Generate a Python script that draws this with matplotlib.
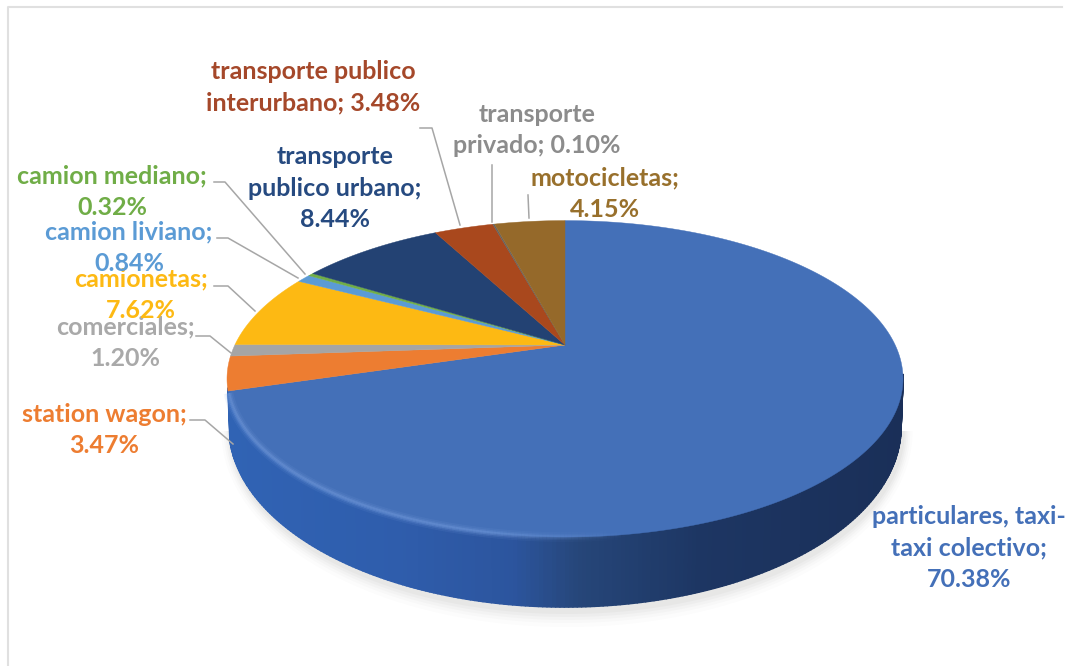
import matplotlib
matplotlib.use("Agg")
import matplotlib.pyplot as plt
import numpy as np
from matplotlib.collections import PolyCollection
from matplotlib.colors import LinearSegmentedColormap

plt.rcParams["font.family"] = ["Lato", "DejaVu Sans"]

categories = [
    "particulares, taxi-\ntaxi colectivo",
    "station wagon",
    "comerciales",
    "camionetas",
    "camion liviano",
    "camion mediano",
    "transporte\npublico urbano",
    "transporte publico\ninterurbano",
    "transporte\nprivado",
    "motocicletas",
]
shares = [70.38, 3.47, 1.20, 7.62, 0.84, 0.32, 8.44, 3.48, 0.10, 4.15]
slice_colors = ["#4470b8", "#ed7d31", "#a5a5a5", "#fdb913", "#5b9bd5",
                "#70ad47", "#234273", "#a9481d", "#636363", "#95692a"]
label_colors = ["#4470b8", "#ed7d31", "#a9a9a9", "#fdb913", "#5b9bd5",
                "#70ad47", "#264a80", "#a5482a", "#8c8c8c", "#98702c"]
label_texts = [
    "particulares, taxi-\ntaxi colectivo;\n70.38%",
    "station wagon;\n3.47%",
    "comerciales;\n1.20%",
    "camionetas;\n7.62%",
    "camion liviano;\n0.84%",
    "camion mediano;\n0.32%",
    "transporte\npublico urbano;\n8.44%",
    "transporte publico\ninterurbano; 3.48%",
    "transporte\nprivado; 0.10%",
    "motocicletas;\n4.15%",
]
label_xy = [(969, 548), (104, 430), (125, 343), (141, 295), (129, 248),
            (112, 192), (335, 188), (313, 87), (537, 130), (605, 194)]
leaders = [
    [(190, 420), (205, 420), (233, 444)],
    [(196, 336), (210, 336), (231, 353)],
    [(214, 286), (228, 286), (255, 311)],
    [(217, 238), (228, 238), (298, 278)],
    [(214, 182), (225, 182), (305, 274)],
    [(420, 128), (432, 128), (460, 225)],
    [(492, 165), (492, 222)],
    [(528, 195), (529, 218)],
]

# pie geometry in pixels
CX, APEX_Y = 565, 345
TOP_CY, TOP_RY, RX = 379, 159, 338
LOW_CY, LOW_RY, LOW_RX = 427, 180, 336
K = 0.2138
A = 151.0
B = RX * np.sqrt(1 - K**2)


def face_xy(frac):
    # frac runs clockwise from 12 o'clock, perspective projection of a disc
    t = 2 * np.pi * np.asarray(frac)
    X, Y = np.sin(t), np.cos(t)
    w = 1 + K * Y
    return CX + B * X / w, APEX_Y - A * Y / w


fig, ax = plt.subplots(figsize=(10.66, 6.66), dpi=100)
ax.set_position([0, 0, 1, 1])
ax.set_xlim(0, 1066)
ax.set_ylim(666, 0)
ax.axis("off")

# frame
ax.plot([8, 8, 1062], [666, 7, 7], color="#e0e0e0", lw=1.5, zorder=0)

phi = np.linspace(0, np.pi, 400)

# soft shadow under the disc
for grow, alpha in zip([16, 12, 9, 6, 3], [0.025, 0.03, 0.04, 0.05, 0.06]):
    ax.fill(CX + 2 + (LOW_RX + grow * 0.6) * np.cos(phi),
            LOW_CY + 4 + (LOW_RY + grow) * np.sin(phi),
            color="#8c8c80", alpha=alpha, lw=0, zorder=1)

# side wall
fracs = np.cumsum([0] + shares) / sum(shares)
xb, yb = face_xy(fracs[1])
phi_end = np.pi - np.arcsin((yb - TOP_CY) / TOP_RY)
side_phi = np.linspace(-0.01, phi_end, 240)
xt = CX + RX * np.cos(side_phi)
yt = TOP_CY + TOP_RY * np.sin(side_phi)
xl = CX + LOW_RX * np.cos(side_phi)
yl = LOW_CY + LOW_RY * np.sin(side_phi)
side_cmap = LinearSegmentedColormap.from_list(
    "side", [(0, "#3063b4"), (0.25, "#2f5dac"), (0.42, "#2c559e"),
             (0.52, "#264679"), (0.7, "#1d3663"), (1, "#1a2f58")])
polys = [[(xt[i], yt[i] - 3), (xt[i + 1], yt[i + 1] - 3), (xl[i + 1], yl[i + 1]), (xl[i], yl[i])]
         for i in range(len(xt) - 1)]
cols = side_cmap((xt[:-1] - 230) / (905 - 230))
ax.add_collection(PolyCollection(polys, facecolors=cols, edgecolors=cols, linewidths=1.2, zorder=2))

# top face
for i, color in enumerate(slice_colors):
    fr = np.linspace(fracs[i], fracs[i + 1], max(int(shares[i] * 6), 4))
    x, y = face_xy(fr)
    ax.fill(np.r_[CX, x], np.r_[APEX_Y, y], color=color, lw=0.3, zorder=3)

# rim highlight, fades out towards the right
rim = np.linspace(np.radians(78), phi_end - 0.02, 160)
rim_x = CX + RX * np.cos(rim)
rim_y = TOP_CY + TOP_RY * np.sin(rim)
strength = np.clip((rim - np.radians(78)) / np.radians(25), 0, 1)
for lw, alpha in zip([7, 4.5, 2.5], [0.10, 0.16, 0.28]):
    for i in range(len(rim) - 1):
        ax.plot(rim_x[i:i + 2], rim_y[i:i + 2] - 1, color="#7fa6e6", lw=lw,
                alpha=alpha * strength[i], solid_capstyle="butt", zorder=4)

# leader lines
for pts in leaders:
    px, py = zip(*pts)
    ax.plot(px, py, color="#a6a6a6", lw=1.1, zorder=5)

# labels
for text, (lx, ly), color in zip(label_texts, label_xy, label_colors):
    ax.text(lx, ly, text, ha="center", va="center", color=color, fontsize=18,
            fontweight="bold", linespacing=1.45, zorder=6)

fig.savefig("out.png", dpi=100)
